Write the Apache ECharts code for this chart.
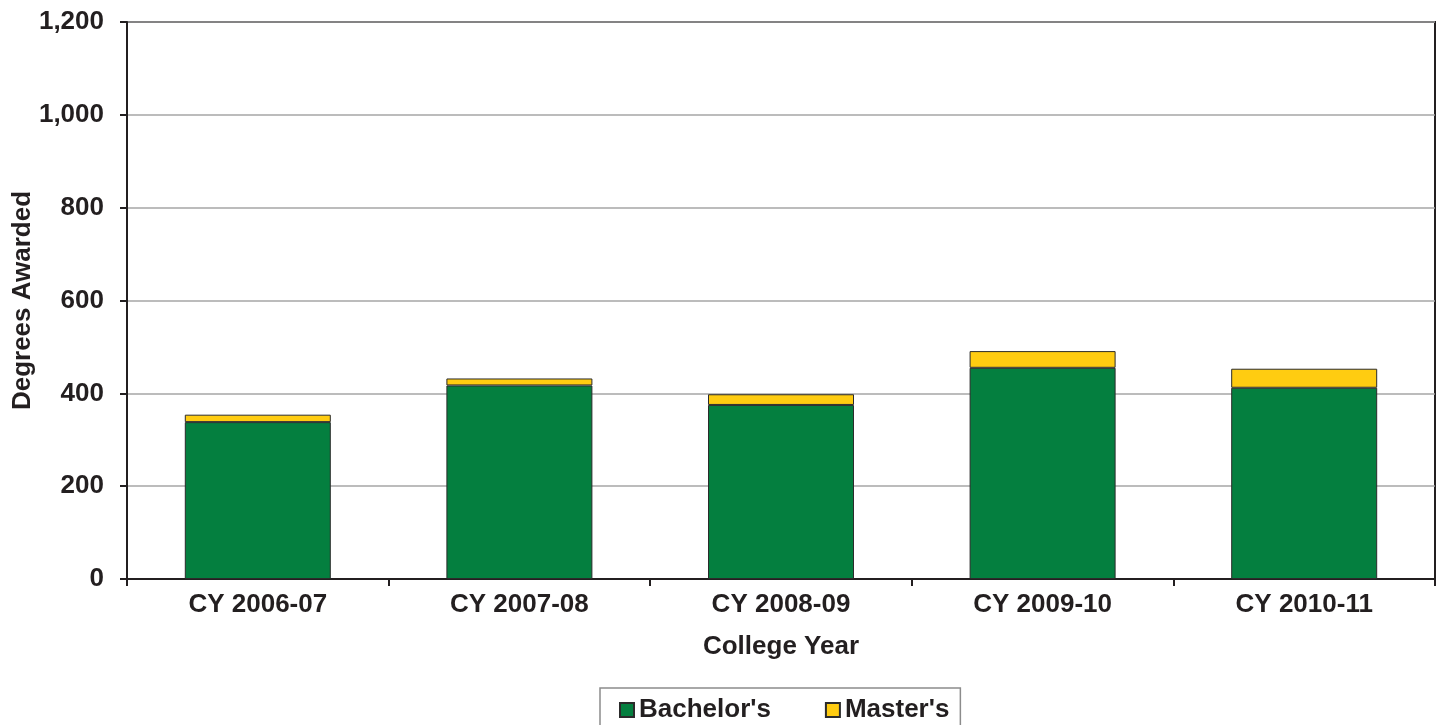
<!DOCTYPE html>
<html>
<head>
<meta charset="utf-8">
<script src="https://cdn.jsdelivr.net/npm/echarts@6/dist/echarts.min.js"></script>
<style>
html,body{margin:0;padding:0;background:#fff;}
#chart{width:1440px;height:725px;}
</style>
</head>
<body>
<div id="chart"></div>
<script>
const categories = ['CY 2006-07', 'CY 2007-08', 'CY 2008-09', 'CY 2009-10', 'CY 2010-11'];
const bachelors = [338, 417, 375, 455, 412];
const masters = [16, 15, 23, 36, 41];
const yTicks = [0, 200, 400, 600, 800, 1000, 1200];

const FONT = '"Liberation Sans", Arial, Helvetica, sans-serif';
const TXT = '#231F20';
const FS = 26;

const chart = echarts.init(document.getElementById('chart'), null, {renderer: 'canvas'});
chart.setOption({
  animation: false,
  backgroundColor: '#fff',
  textStyle: {fontFamily: FONT},
  grid: {
    left: 127, right: 5, top: 22, bottom: 146,
    outerBoundsMode: 'none', containLabel: false,
    show: true, borderColor: TXT, borderWidth: 2, backgroundColor: 'transparent'
  },
  legend: {
    left: 600, top: 688,
    orient: 'horizontal',
    itemWidth: 14, itemHeight: 14, itemGap: 54,
    padding: [9, 11, 9, 19],
    borderColor: '#8c8c8c', borderWidth: 1.5,
    textStyle: {fontFamily: FONT, fontSize: FS, fontWeight: 'bold', color: TXT},
    data: [{name: "Bachelor's", icon: 'rect'}, {name: "Master's", icon: 'rect'}]
  },
  xAxis: {
    type: 'category',
    data: categories,
    name: 'College Year',
    nameLocation: 'middle',
    nameGap: 55,
    nameMoveOverlap: false,
    nameTextStyle: {fontFamily: FONT, fontSize: FS, fontWeight: 'bold', color: TXT},
    axisLine: {lineStyle: {color: TXT, width: 2}},
    axisTick: {show: true, length: 7, lineStyle: {color: TXT, width: 2}},
    axisLabel: {fontFamily: FONT, fontSize: FS, fontWeight: 'bold', color: TXT, margin: 13},
    splitLine: {show: false}
  },
  yAxis: {
    type: 'value',
    min: yTicks[0], max: yTicks[yTicks.length - 1], interval: yTicks[1] - yTicks[0],
    name: 'Degrees Awarded',
    nameLocation: 'middle',
    nameRotate: 90,
    nameGap: 91,
    nameMoveOverlap: false,
    nameTextStyle: {fontFamily: FONT, fontSize: FS, fontWeight: 'bold', color: TXT},
    axisLine: {show: true, lineStyle: {color: TXT, width: 2}},
    axisTick: {show: true, length: 7, lineStyle: {color: TXT, width: 2}},
    axisLabel: {
      fontFamily: FONT, fontSize: FS, fontWeight: 'bold', color: TXT, margin: 23,
      formatter: v => v.toLocaleString('en-US')
    },
    splitLine: {show: true, lineStyle: {color: '#a6a6a6', width: 1.5}}
  },
  series: [
    {
      name: "Bachelor's", type: 'bar', stack: 'total', data: bachelors,
      barWidth: 146,
      itemStyle: {color: '#047F3F', borderColor: '#2b2b2b', borderWidth: 1}
    },
    {
      name: "Master's", type: 'bar', stack: 'total', data: masters,
      barWidth: 146,
      itemStyle: {color: '#FFCC11', borderColor: '#2b2b2b', borderWidth: 1}
    }
  ]
});
</script>
</body>
</html>
